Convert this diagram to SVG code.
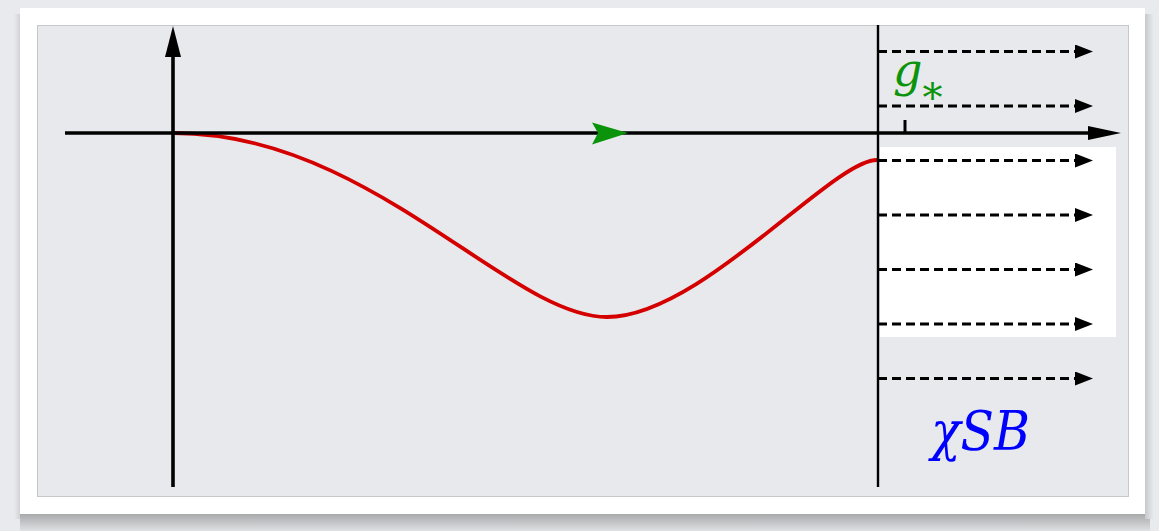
<svg xmlns="http://www.w3.org/2000/svg" width="1159" height="531" viewBox="0 0 1159 531">
<defs>
<style>
.axis{stroke:#000;stroke-width:3.6;fill:none}
.dash{stroke:#000;stroke-width:2.8;stroke-dasharray:9 5;fill:none}
.head{fill:#000}
.curve{stroke:#d40000;stroke-width:3.8;fill:none}
.lbl{font-family:"DejaVu Serif","Liberation Serif",serif;font-style:italic}
</style>
<linearGradient id="shB" x1="0" y1="0" x2="0" y2="1">
<stop offset="0" stop-color="#a8a9ab"/>
<stop offset="1" stop-color="#e0e1e4"/>
</linearGradient>
<linearGradient id="shR" x1="0" y1="0" x2="1" y2="0">
<stop offset="0" stop-color="#c8c9cc"/>
<stop offset="1" stop-color="#e6e7ea"/>
</linearGradient>
<linearGradient id="shL" x1="1" y1="0" x2="0" y2="0">
<stop offset="0" stop-color="#d2d3d6"/>
<stop offset="1" stop-color="#e9eaed"/>
</linearGradient>
<marker id="dh" markerWidth="18" markerHeight="14" refX="0" refY="7" orient="auto" markerUnits="userSpaceOnUse">
<path d="M0,0 L18,7 L0,14 Z" fill="#000"/>
</marker>
</defs>
<rect x="0" y="0" width="1159" height="531" fill="#e9eaed"/>
<rect x="20" y="514" width="1130" height="17" fill="url(#shB)"/>
<rect x="1145" y="14" width="8" height="505" fill="url(#shR)"/>
<rect x="14" y="14" width="6" height="505" fill="url(#shL)"/>
<rect x="20" y="8" width="1125" height="506" fill="#ffffff"/>
<rect x="37.5" y="25.5" width="1091" height="471" fill="#e7e9ec" stroke="#c6c7ca" stroke-width="1"/>
<rect x="880" y="147" width="236" height="190" fill="#ffffff"/>

<g id="curve">
<path class="curve" d="M174,133 C370,133 509,317 607,317 C700,317 832,160 877,160"/>
</g>

<g id="axes">
<line class="axis" x1="173" y1="50" x2="173" y2="487"/>
<path class="head" d="M173,26 L181,57 L165,57 Z"/>
<line class="axis" x1="65" y1="133" x2="1095" y2="133"/>
<path class="head" d="M1121,133 L1088,126 L1088,140 Z"/>
<line x1="878" y1="25" x2="878" y2="487" stroke="#000" stroke-width="2.4"/>
<line x1="905" y1="120" x2="905" y2="133" stroke="#000" stroke-width="3"/>
<path d="M628,133 L592,122.5 L598,133 L592,144.5 Z" fill="#0b940b"/>
</g>

<g id="connectors">
<line class="dash" x1="878" y1="51.5" x2="1075" y2="51.5" marker-end="url(#dh)"/>
<line class="dash" x1="878" y1="106" x2="1075" y2="106" marker-end="url(#dh)"/>
<line class="dash" x1="878" y1="160.5" x2="1075" y2="160.5" marker-end="url(#dh)"/>
<line class="dash" x1="878" y1="215" x2="1075" y2="215" marker-end="url(#dh)"/>
<line class="dash" x1="878" y1="269.5" x2="1075" y2="269.5" marker-end="url(#dh)"/>
<line class="dash" x1="878" y1="324" x2="1075" y2="324" marker-end="url(#dh)"/>
<line class="dash" x1="878" y1="378.5" x2="1075" y2="378.5" marker-end="url(#dh)"/>
</g>

<g id="label-gstar">
<text class="lbl" x="893" y="86" font-size="46" fill="#0b940b">g<tspan font-size="40" font-style="normal" dy="25">*</tspan></text>
</g>
<g id="label-xsb">
<text class="lbl" x="931" y="450" font-size="55" fill="#0000ff" textLength="99" lengthAdjust="spacingAndGlyphs">χSB</text>
</g>
</svg>
